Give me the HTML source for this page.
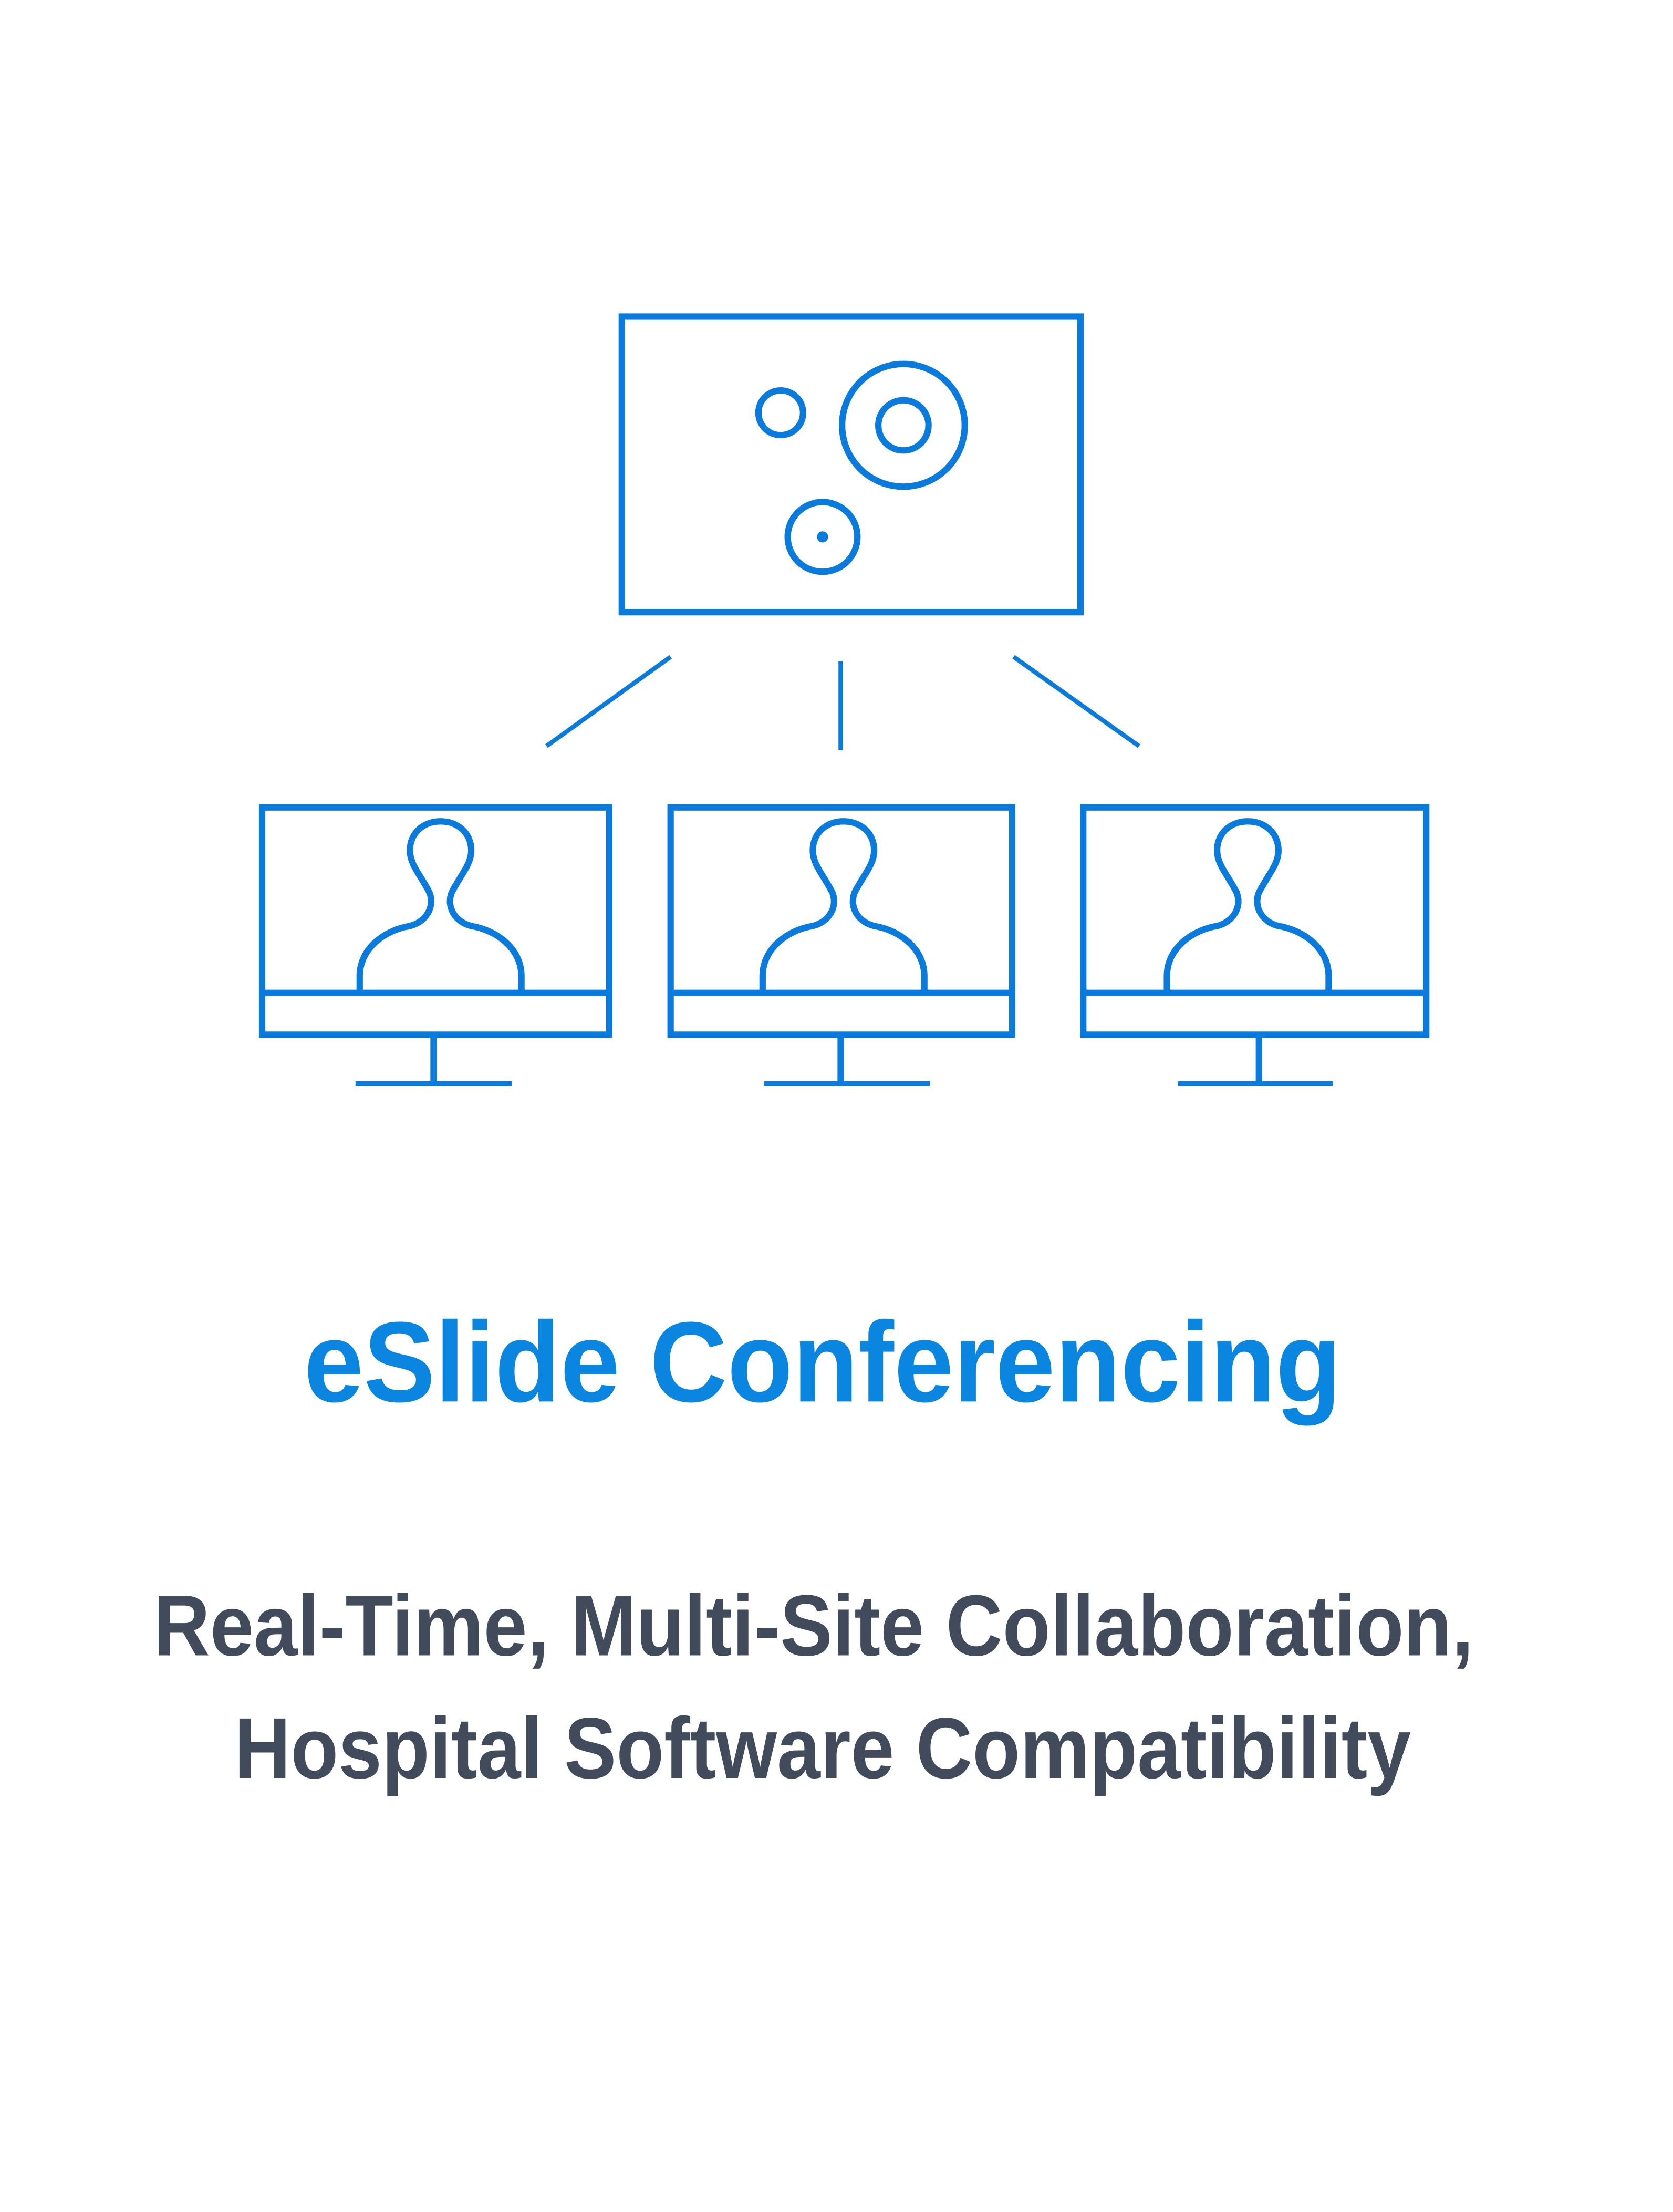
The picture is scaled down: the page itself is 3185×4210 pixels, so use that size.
<!DOCTYPE html>
<html><head><meta charset="utf-8"><style>html,body{margin:0;padding:0;background:#fff}svg{display:block}</style></head>
<body>
<svg width="3185" height="4210" viewBox="0 0 1200 1586.2" xmlns="http://www.w3.org/2000/svg">
<rect width="1200" height="1586.2" fill="#fff"/>
<g fill="none" stroke="#0a7bdc" stroke-width="4.6">
<rect x="446" y="227" width="329" height="212"/>
<circle cx="560" cy="296" r="16"/>
<circle cx="648" cy="305" r="44"/>
<circle cx="648" cy="305" r="18"/>
<circle cx="590" cy="385" r="25"/>
<g stroke-width="3.2">
<line x1="481" y1="471" x2="392" y2="535"/>
<line x1="603" y1="474" x2="603" y2="538"/>
<line x1="727" y1="471" x2="817" y2="535"/>
</g>
<rect x="188" y="579" width="249" height="163"/>
<line x1="188" y1="712" x2="437" y2="712"/>
<line x1="311" y1="742" x2="311" y2="777"/>
<line x1="255" y1="777" x2="367" y2="777" stroke-width="3.2"/>
<path d="M258 712 V700 C258 680 276 667 294 664 C306 661 312 650 308 640 C302 628 294 620 294 610 C294 597 304 589 316 589 C328 589 338 597 338 610 C338 620 330 628 324 640 C320 650 326 661 338 664 C356 667 374 680 374 700 V712"/>
<rect x="481" y="579" width="245" height="163"/>
<line x1="481" y1="712" x2="726" y2="712"/>
<line x1="603" y1="742" x2="603" y2="777"/>
<line x1="548" y1="777" x2="667" y2="777" stroke-width="3.2"/>
<path d="M547 712 V700 C547 680 565 667 583 664 C595 661 601 650 597 640 C591 628 583 620 583 610 C583 597 593 589 605 589 C617 589 627 597 627 610 C627 620 619 628 613 640 C609 650 615 661 627 664 C645 667 663 680 663 700 V712"/>
<rect x="777" y="579" width="246" height="163"/>
<line x1="777" y1="712" x2="1023" y2="712"/>
<line x1="903" y1="742" x2="903" y2="777"/>
<line x1="845" y1="777" x2="956" y2="777" stroke-width="3.2"/>
<path d="M837 712 V700 C837 680 855 667 873 664 C885 661 891 650 887 640 C881 628 873 620 873 610 C873 597 883 589 895 589 C907 589 917 597 917 610 C917 620 909 628 903 640 C899 650 905 661 917 664 C935 667 953 680 953 700 V712"/>
</g>
<circle cx="590" cy="385" r="4" fill="#0a7bdc"/>
<g font-family="'Liberation Sans', sans-serif" font-weight="bold">
<text x="218" y="1005" font-size="82" fill="#0a86e0" textLength="744" lengthAdjust="spacingAndGlyphs">eSlide Conferencing</text>
<text x="110" y="1187" font-size="62" fill="#414b5c" textLength="947" lengthAdjust="spacingAndGlyphs">Real-Time, Multi-Site Collaboration,</text>
<text x="168" y="1275" font-size="62" fill="#414b5c" textLength="844" lengthAdjust="spacingAndGlyphs">Hospital Software Compatibility</text>
</g>
</svg>
</body></html>
